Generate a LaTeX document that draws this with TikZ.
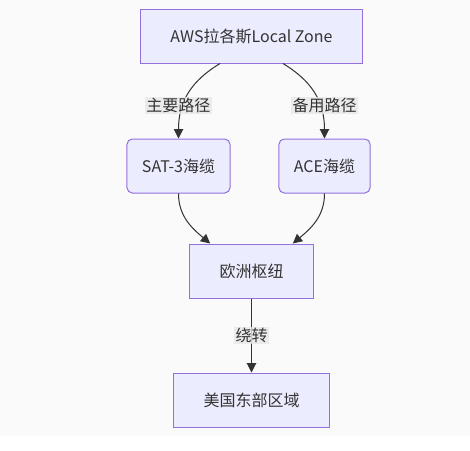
\documentclass[tikz,border=0pt]{standalone}
\usepackage{fontspec}
\setmainfont{Noto Sans CJK SC}
\usetikzlibrary{positioning, arrows.meta}

\definecolor{boxfill}{HTML}{ECECFF}
\definecolor{boxline}{HTML}{9370DB}
\definecolor{edgeline}{HTML}{333333}
\definecolor{labelbg}{HTML}{E8E8E8}
\definecolor{pagebg}{HTML}{FAFAFA}

\begin{document}
\begin{tikzpicture}[
        node distance=56.25pt,
        every node/.style={font=\fontsize{12pt}{14pt}\selectfont, text=edgeline},
        box/.style={draw=boxline, fill=boxfill, line width=0.75pt, rectangle, minimum height=40.5pt, inner xsep=22.5pt, align=center},
        cable/.style={box, rounded corners=4pt, inner xsep=11.25pt},
        link/.style={draw=edgeline, line width=0.75pt, -{Triangle[length=7pt, width=7pt]}},
        tag/.style={fill=labelbg, fill opacity=0.8, text opacity=1, inner sep=1pt}
    ]

    % page and background
    \fill[white] (-188.625pt,27pt) rectangle (163.875pt,-310.5pt);
    \fill[pagebg] (-188.625pt,27pt) rectangle (163.875pt,-300pt);
    \useasboundingbox (-188.625pt,27pt) rectangle (163.875pt,-310.5pt);

    \node[box] (lagos) at (0,0) {AWS拉各斯Local Zone};
    \node[cable, below=of lagos, xshift=-54.75pt] (sat) {SAT-3海缆};
    \node[cable, below=of lagos, xshift=54.75pt] (ace) {ACE海缆};
    \node[box, below=135pt of lagos] (hub) {欧洲枢纽};
    \node[box, below=55.5pt of hub] (useast) {美国东部区域};

    \draw[link] ([xshift=-23.6pt]lagos.south) .. controls +(-21pt,-12.75pt) and +(0,28.5pt) .. (sat.north);
    \draw[link] ([xshift=23.6pt]lagos.south) .. controls +(21pt,-12.75pt) and +(0,28.5pt) .. (ace.north);
    \node[tag, above=18pt of sat] (main) {主要路径};
    \node[tag, above=18pt of ace] (backup) {备用路径};

    \draw[link] (sat.south) to[out=-90, in=140] ([xshift=-31pt]hub.north);
    \draw[link] (ace.south) to[out=-90, in=40] ([xshift=31pt]hub.north);

    \draw[link] (hub.south) -- node[tag] (detour) {绕转} (useast.north);

    \end{tikzpicture}
\end{document}
